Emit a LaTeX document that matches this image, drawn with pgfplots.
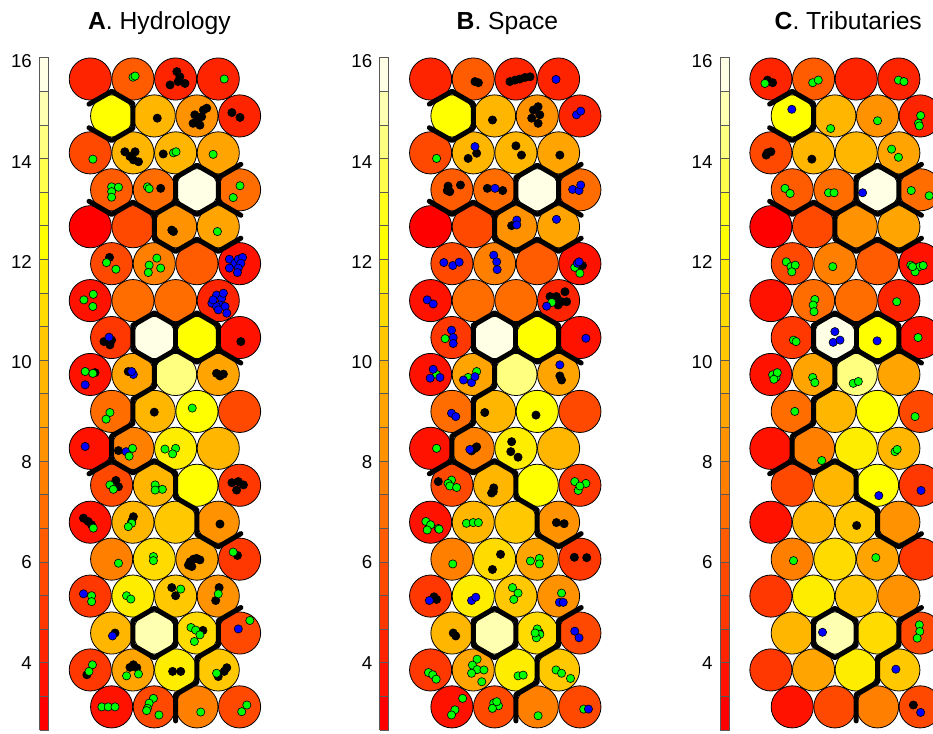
\documentclass[border=0pt]{standalone}
\usepackage{pgfplots}
\pgfplotsset{compat=1.18}
\usepackage{pgfplotstable}
\usepackage{fontspec}
\setmainfont{Liberation Sans}

\definecolor{hc1}{RGB}{255,0,0}
\definecolor{hc2}{RGB}{255,18,0}
\definecolor{hc3}{RGB}{255,36,0}
\definecolor{hc4}{RGB}{255,55,0}
\definecolor{hc5}{RGB}{255,73,0}
\definecolor{hc6}{RGB}{255,91,0}
\definecolor{hc7}{RGB}{255,109,0}
\definecolor{hc8}{RGB}{255,128,0}
\definecolor{hc9}{RGB}{255,146,0}
\definecolor{hc10}{RGB}{255,164,0}
\definecolor{hc11}{RGB}{255,182,0}
\definecolor{hc12}{RGB}{255,200,0}
\definecolor{hc13}{RGB}{255,219,0}
\definecolor{hc14}{RGB}{255,237,0}
\definecolor{hc15}{RGB}{255,255,0}
\definecolor{hc16}{RGB}{255,255,25}
\definecolor{hc17}{RGB}{255,255,76}
\definecolor{hc18}{RGB}{255,255,128}
\definecolor{hc19}{RGB}{255,255,178}
\definecolor{hc20}{RGB}{255,255,230}

\pgfplotsset{
  colormap={heat}{rgb255=(255,0,0) rgb255=(255,18,0) rgb255=(255,36,0) rgb255=(255,55,0) rgb255=(255,73,0) rgb255=(255,91,0) rgb255=(255,109,0) rgb255=(255,128,0) rgb255=(255,146,0) rgb255=(255,164,0) rgb255=(255,182,0) rgb255=(255,200,0) rgb255=(255,219,0) rgb255=(255,237,0) rgb255=(255,255,0) rgb255=(255,255,25) rgb255=(255,255,76) rgb255=(255,255,128) rgb255=(255,255,178) rgb255=(255,255,230)},
  mapax/.style={x=31.99pt, y=27.70pt, y dir=reverse, xmin=-0.5, xmax=4, ymin=0, ymax=19,
    hide axis, clip=false, anchor=north west, point meta min=1, point meta max=20},
  bnd/.style={black, line width=3.75pt, line cap=round, line join=round},
  dk/.style={only marks, mark=*, mark size=3.1pt, mark options={fill=black, draw=black, line width=0.45pt}},
  dg/.style={only marks, mark=*, mark size=3.1pt, mark options={fill=green, draw=black, line width=0.45pt}},
  db/.style={only marks, mark=*, mark size=3.1pt, mark options={fill=blue, draw=black, line width=0.45pt}},
  cbax/.style={x=6.75pt, y=37.575pt, xmin=0, xmax=1, ymin=2.657, ymax=16.077, anchor=south west,
    axis line style={draw=none}, xtick=\empty, ytick={4,6,...,16}, major tick length=0pt,
    yticklabel style={font=\fontsize{14}{16}\selectfont, xshift=-2.2pt},
    /pgf/number format/assume math mode=true, clip=false},
  st/.style={draw=black!65, line width=0.5pt}
}

\pgfplotstableread{
x y c
0 1 3
1 1 6
2 1 3
3 1 3
0.5 2 15
1.5 2 11
2.5 2 9
3.5 2 3
0 3 5
1 3 11
2 3 11
3 3 10
0.5 4 6
1.5 4 7
2.5 4 20
3.5 4 7
0 5 1
1 5 5
2 5 9
3 5 10
0.5 6 5
1.5 6 8
2.5 6 6
3.5 6 2
0 7 2
1 7 7
2 7 7
3 7 3
0.5 8 4
1.5 8 20
2.5 8 15
3.5 8 2
0 9 2
1 9 10
2 9 18
3 9 10
0.5 10 7
1.5 10 11
2.5 10 15
3.5 10 5
0 11 2
1 11 8
2 11 14
3 11 11
0.5 12 5
1.5 12 11
2.5 12 15
3.5 12 4
0 13 2
1 13 11
2 13 12
3 13 9
0.5 14 8
1.5 14 13
2.5 14 10
3.5 14 4
0 15 4
1 15 14
2 15 12
3 15 9
0.5 16 11
1.5 16 19
2.5 16 13
3.5 16 5
0 17 4
1 17 10
2 17 14
3 17 12
0.5 18 2
1.5 18 5
2.5 18 8
3.5 18 5
}\units

\newcommand{\unitsaxis}[1]{%
\begin{axis}[mapax, at={#1}]
\addplot[scatter, only marks, mark=*, mark size=15.8pt, point meta=explicit,
  scatter/use mapped color={draw=black, fill=mapped color}, mark options={line width=0.6pt}]
  table[x=x, y=y, meta=c]{\units};
\end{axis}}

\newcommand{\bounds}{%
\addplot[bnd] coordinates {(-0.03,1.68) (0.5,1.333) (1,1.667) (1,2.333) (0.5,2.667) (-0.03,2.32)};
\addplot[bnd] coordinates {(2,3.667) (2.5,3.333) (3,3.667) (3,4.333) (2.5,4.667) (2,4.333) (2,3.667)};
\addplot[bnd] coordinates {(3,3.667) (3.53,3.31)};
\addplot[bnd] coordinates {(3,4.333) (3.53,4.69)};
\addplot[bnd] coordinates {(-0.03,4.31) (0.5,4.667) (1,4.333) (1.5,4.667) (1.5,5.333) (2,5.667) (2.5,5.333) (3,5.667) (3.53,5.31)};
\addplot[bnd] coordinates {(1.5,4.667) (2,4.333)};
\addplot[bnd] coordinates {(1,7.667) (1.5,7.333) (2,7.667) (2.5,7.333) (3,7.667) (3,8.333) (2.5,8.667) (2,8.333) (1.5,8.667) (1,8.333) (1,7.667)};
\addplot[bnd] coordinates {(2,7.667) (2,8.333)};
\addplot[bnd] coordinates {(3,8.333) (3.53,8.69)};
\addplot[bnd] coordinates {(1.5,8.667) (1.5,9.333) (1,9.667) (1,10.333) (0.5,10.667) (0.5,11.333) (-0.03,11.69)};
\addplot[bnd] coordinates {(0.5,11.333) (1,11.667) (1.5,11.333) (2,11.667) (2,12.333) (2.5,12.667) (2.5,13.333) (3,13.667) (3.53,13.31)};
\addplot[bnd] coordinates {(1,15.667) (1.5,15.333) (2,15.667) (2,16.333) (1.5,16.667) (1,16.333) (1,15.667)};
\addplot[bnd] coordinates {(3.53,15.31) (3,15.667) (3,16.333) (2.5,16.667) (2.5,17.333) (2,17.667) (2,18.38)};
}

\newcommand{\stripes}{%
\addplot[st, fill=hc1] coordinates {(0,2.657) (1,2.657) (1,3.328) (0,3.328) (0,2.657)};
\addplot[st, fill=hc2] coordinates {(0,3.328) (1,3.328) (1,3.999) (0,3.999) (0,3.328)};
\addplot[st, fill=hc3] coordinates {(0,3.999) (1,3.999) (1,4.670) (0,4.670) (0,3.999)};
\addplot[st, fill=hc4] coordinates {(0,4.670) (1,4.670) (1,5.341) (0,5.341) (0,4.670)};
\addplot[st, fill=hc5] coordinates {(0,5.341) (1,5.341) (1,6.012) (0,6.012) (0,5.341)};
\addplot[st, fill=hc6] coordinates {(0,6.012) (1,6.012) (1,6.683) (0,6.683) (0,6.012)};
\addplot[st, fill=hc7] coordinates {(0,6.683) (1,6.683) (1,7.354) (0,7.354) (0,6.683)};
\addplot[st, fill=hc8] coordinates {(0,7.354) (1,7.354) (1,8.025) (0,8.025) (0,7.354)};
\addplot[st, fill=hc9] coordinates {(0,8.025) (1,8.025) (1,8.696) (0,8.696) (0,8.025)};
\addplot[st, fill=hc10] coordinates {(0,8.696) (1,8.696) (1,9.367) (0,9.367) (0,8.696)};
\addplot[st, fill=hc11] coordinates {(0,9.367) (1,9.367) (1,10.038) (0,10.038) (0,9.367)};
\addplot[st, fill=hc12] coordinates {(0,10.038) (1,10.038) (1,10.709) (0,10.709) (0,10.038)};
\addplot[st, fill=hc13] coordinates {(0,10.709) (1,10.709) (1,11.380) (0,11.380) (0,10.709)};
\addplot[st, fill=hc14] coordinates {(0,11.380) (1,11.380) (1,12.051) (0,12.051) (0,11.380)};
\addplot[st, fill=hc15] coordinates {(0,12.051) (1,12.051) (1,12.722) (0,12.722) (0,12.051)};
\addplot[st, fill=hc16] coordinates {(0,12.722) (1,12.722) (1,13.393) (0,13.393) (0,12.722)};
\addplot[st, fill=hc17] coordinates {(0,13.393) (1,13.393) (1,14.064) (0,14.064) (0,13.393)};
\addplot[st, fill=hc18] coordinates {(0,14.064) (1,14.064) (1,14.735) (0,14.735) (0,14.064)};
\addplot[st, fill=hc19] coordinates {(0,14.735) (1,14.735) (1,15.406) (0,15.406) (0,14.735)};
\addplot[st, fill=hc20] coordinates {(0,15.406) (1,15.406) (1,16.077) (0,16.077) (0,15.406)};
}

\begin{document}
\begin{tikzpicture}
% ---------------- colorbars
\begin{axis}[cbax, at={(29.63pt,2.25pt)}]
\stripes
\end{axis}
\begin{axis}[cbax, at={(284.85pt,2.25pt)}]
\stripes
\end{axis}
\begin{axis}[cbax, at={(540.08pt,2.25pt)}]
\stripes
\end{axis}

% ---------------- unit circles (shared map)
\unitsaxis{(51.73pt,518.2pt)}
\unitsaxis{(306.96pt,518.2pt)}
\unitsaxis{(562.18pt,518.2pt)}

% ---------------- Panel A
\begin{axis}[mapax, at={(51.73pt,518.2pt)}]
\bounds
\addplot[dk] table {
x y
2.03 0.80
1.87 1.16
2.06 1.07
2.22 1.12
2.10 0.94
1.57 2.06
2.45 1.97
2.53 2.11
2.65 1.84
2.73 1.79
2.57 2.25
2.41 2.20
2.61 2.02
3.32 1.91
3.51 2.04
0.81 2.97
0.93 3.10
1.05 2.97
1.13 3.24
1.01 3.19
1.71 3.03
1.65 3.96
1.91 5.09
1.95 5.13
0.45 5.83
0.32 8.11
0.46 8.20
0.50 8.07
3.53 8.11
0.11 8.95
0.89 8.92
2.96 8.97
3.04 9.04
3.12 8.99
1.50 10.02
0.66 11.06
0.60 11.87
0.66 12.04
3.32 11.93
3.47 11.90
3.59 11.99
3.43 12.13
-0.16 12.89
-0.05 12.98
0.03 13.07
1.01 12.85
0.97 12.98
3.04 13.05
2.34 14.07
2.42 14.00
2.49 13.98
2.57 14.02
2.38 14.20
2.30 14.16
3.45 13.90
1.91 14.77
2.00 14.99
3.02 14.77
2.94 15.12
0.58 16.00
2.64 15.93
-0.08 17.13
1.01 16.86
1.09 16.94
0.93 16.93
1.93 17.04
2.12 17.04
3.20 16.94
3.14 17.04
3.00 17.18
};
\addplot[db] table {
x y
3.26 5.88
3.39 5.99
3.47 5.88
3.57 5.83
3.53 5.99
3.47 6.12
3.26 6.12
3.45 6.24
2.85 7.07
2.96 6.85
3.08 6.94
3.04 7.12
3.16 7.16
2.96 7.16
2.88 6.98
3.12 6.80
3.20 7.34
3.00 7.25
0.44 7.99
-0.12 9.28
1.01 9.00
0.97 8.92
-0.12 10.95
0.84 11.09
-0.16 14.94
0.52 16.08
3.47 15.89
};
\addplot[dg] table {
x y
1.00 0.95
1.05 0.92
3.14 1.00
0.06 3.17
1.95 3.00
2.01 2.97
2.88 3.04
0.50 3.92
0.66 3.93
0.50 4.05
0.50 4.20
1.34 3.92
1.38 3.97
3.51 3.89
3.35 4.21
2.98 5.13
0.38 5.97
0.60 6.15
1.56 5.85
1.38 6.04
1.65 6.12
1.36 6.24
-0.15 6.98
0.07 6.83
0.06 7.16
-0.12 8.92
0.06 8.97
0.46 10.03
0.37 10.21
2.39 9.91
0.99 11.00
0.91 11.21
1.75 11.02
2.00 11.00
1.93 11.15
0.46 11.99
0.54 12.11
1.52 11.99
1.69 12.11
1.52 12.13
0.07 13.16
0.97 13.03
0.89 13.12
0.66 14.11
1.48 13.93
1.48 14.04
3.35 13.81
0.03 14.99
0.03 15.15
0.85 14.99
0.95 15.08
2.12 14.81
3.00 14.94
2.36 15.85
2.47 15.92
2.57 16.05
2.44 16.23
3.74 15.66
0.05 16.86
-0.03 17.04
0.85 17.16
1.13 17.11
2.96 17.09
0.27 18.00
0.42 18.00
0.58 18.00
1.48 17.77
1.38 17.90
1.34 18.04
1.32 18.10
1.61 18.22
2.59 18.14
3.67 17.95
3.55 18.13
};
\end{axis}

% ---------------- Panel B
\begin{axis}[mapax, at={(306.96pt,518.2pt)}]
\bounds
\addplot[dk] table {
x y
1.04 1.07
1.12 1.10
1.86 1.07
1.98 1.03
2.09 1.00
2.21 0.96
2.33 0.94
1.45 2.11
2.41 1.84
2.52 1.75
2.56 1.97
2.37 2.06
2.52 2.20
1.08 3.01
0.88 3.15
2.00 2.81
2.13 3.06
3.03 3.06
0.41 3.90
0.45 4.05
0.70 3.87
0.39 4.02
1.33 3.96
1.69 4.02
1.90 4.97
3.56 6.05
2.80 6.89
2.95 6.89
3.07 7.03
3.19 7.03
2.99 7.12
3.15 6.76
3.03 9.04
3.07 9.15
1.27 10.03
2.47 10.10
0.96 11.07
1.04 11.00
1.08 10.96
1.90 10.82
1.88 11.09
2.05 11.24
0.18 11.90
1.48 12.07
1.43 12.21
1.47 12.17
2.95 13.01
3.13 13.04
1.64 13.87
1.45 14.28
3.37 13.95
3.66 13.96
0.08 15.02
0.14 15.09
0.53 16.00
0.59 16.08
2.55 15.99
};
\addplot[dg] table {
x y
0.14 3.15
3.38 6.10
3.50 6.26
2.84 7.05
0.34 8.03
0.14 9.00
0.88 9.08
1.08 8.92
0.14 11.00
0.49 11.86
0.41 11.95
0.45 12.02
0.61 12.06
3.38 11.90
3.64 11.95
3.46 12.14
3.50 12.02
-0.11 12.98
0.00 13.07
-0.08 13.21
0.18 13.17
0.20 13.19
0.84 13.03
1.00 13.01
1.12 13.01
0.52 14.13
2.34 14.05
2.55 13.98
2.55 14.13
1.92 14.77
2.05 14.92
1.95 15.09
3.07 14.92
2.50 15.89
2.56 16.04
2.48 16.13
2.45 16.00
-0.05 17.07
0.05 17.13
0.13 17.25
1.09 16.71
0.98 16.87
1.09 16.99
0.96 17.09
1.25 17.00
1.20 17.32
2.05 17.16
2.17 17.14
2.94 17.00
3.07 17.09
3.28 17.23
0.75 17.77
0.57 18.08
0.49 18.22
1.48 17.90
1.59 17.97
1.45 18.04
1.55 17.86
2.52 18.24
3.59 18.06
};
\addplot[db] table {
x y
2.94 1.01
3.42 1.97
3.52 1.87
1.04 2.83
1.51 3.96
3.33 3.99
3.48 4.02
3.52 3.87
2.02 4.82
2.02 4.95
2.95 4.80
0.31 5.97
0.52 6.05
0.67 5.96
1.48 5.77
1.55 5.95
1.56 6.16
3.44 5.99
3.48 5.95
-0.08 6.98
0.06 7.09
2.72 7.15
0.49 7.80
0.53 8.00
0.53 8.16
3.64 8.02
-0.01 9.10
0.22 9.08
0.06 8.86
0.77 9.15
0.96 9.22
1.04 9.06
3.03 8.74
0.49 10.05
0.59 10.14
0.92 11.03
-0.03 15.12
0.96 15.12
1.06 15.03
3.02 15.17
3.11 15.17
3.38 15.95
3.48 16.13
3.70 18.06
};
\end{axis}

% ---------------- Panel C
\begin{axis}[mapax, at={(562.18pt,518.2pt)}]
\bounds
\addplot[dk] table {
x y
-0.08 1.03
0.04 1.10
-0.11 3.06
0.00 2.97
-0.08 3.00
0.96 3.17
2.01 13.09
3.34 17.95
};
\addplot[dg] table {
x y
-0.14 1.12
0.98 1.10
1.11 1.03
2.99 1.03
3.12 1.07
1.40 2.34
2.50 2.13
3.51 1.99
3.46 2.20
3.48 2.27
2.83 2.90
2.99 3.12
0.33 3.96
0.45 4.10
1.35 4.08
1.48 4.08
3.29 4.02
3.71 4.16
0.36 5.95
0.47 6.08
0.57 6.04
0.49 6.22
1.45 6.08
3.28 6.04
3.38 6.13
3.48 6.08
3.57 6.05
3.38 6.22
3.32 6.08
1.03 6.97
0.99 7.12
1.01 7.30
2.95 7.03
0.53 8.07
0.59 8.11
3.45 8.00
0.04 9.01
0.12 9.08
0.15 8.95
0.07 9.13
0.98 9.08
1.03 9.22
1.93 9.24
2.05 9.19
0.56 10.00
3.38 10.14
1.19 11.33
2.91 11.09
2.96 11.03
0.53 14.04
2.46 13.96
3.48 15.78
3.49 15.96
3.43 16.14
};
\addplot[db] table {
x y
0.49 1.82
2.15 4.08
1.50 7.84
1.46 8.13
1.62 8.07
2.49 8.09
2.53 12.28
3.52 12.14
1.21 15.98
2.93 16.98
3.51 18.15
};
\end{axis}

% ---------------- titles
\node[font=\fontsize{18.5}{22}\selectfont, anchor=base] at (119.6pt,527.3pt) {\textbf{A}. Hydrology};
\node[font=\fontsize{18.5}{22}\selectfont, anchor=base] at (380.6pt,527.3pt) {\textbf{B}. Space};
\node[font=\fontsize{18.5}{22}\selectfont, anchor=base] at (636.2pt,527.3pt) {\textbf{C}. Tributaries};

\pgfresetboundingbox
\path[use as bounding box] (0,0) rectangle (699.75pt,549.75pt);
\end{tikzpicture}
\end{document}
